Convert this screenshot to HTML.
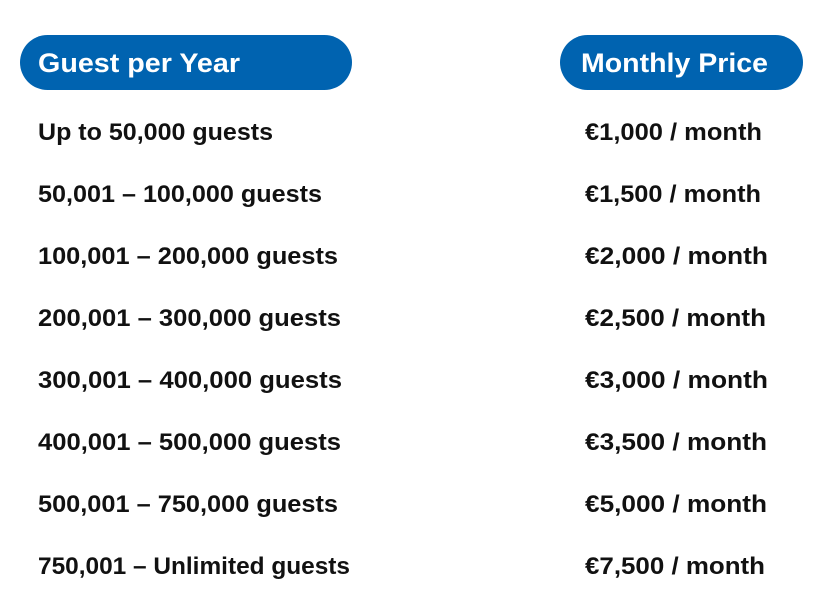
<!DOCTYPE html>
<html><head><meta charset="utf-8"><style>
html,body{margin:0;padding:0;background:#fff;}
svg{display:block;}
text{font-family:"Liberation Sans",sans-serif;font-weight:bold;}
.r{font-size:24px;fill:#111;}
.h{font-size:27px;fill:#fff;}
</style></head><body>
<svg width="837" height="612" xmlns="http://www.w3.org/2000/svg">
<rect x="20" y="35" width="332" height="55" rx="27.5" fill="#0063b0"/>
<rect x="560" y="35" width="243" height="55" rx="27.5" fill="#0063b0"/>
<text class="h" x="38" y="72" textLength="202" lengthAdjust="spacingAndGlyphs">Guest per Year</text>
<text class="h" x="581" y="72" textLength="187" lengthAdjust="spacingAndGlyphs">Monthly Price</text>
<g class="r">
<text class="r" x="38" y="140" textLength="235" lengthAdjust="spacingAndGlyphs">Up to 50,000 guests</text>
<text class="r" x="38" y="202" textLength="284" lengthAdjust="spacingAndGlyphs">50,001 – 100,000 guests</text>
<text class="r" x="38" y="264" textLength="300" lengthAdjust="spacingAndGlyphs">100,001 – 200,000 guests</text>
<text class="r" x="38" y="326" textLength="303" lengthAdjust="spacingAndGlyphs">200,001 – 300,000 guests</text>
<text class="r" x="38" y="388" textLength="304" lengthAdjust="spacingAndGlyphs">300,001 – 400,000 guests</text>
<text class="r" x="38" y="450" textLength="303" lengthAdjust="spacingAndGlyphs">400,001 – 500,000 guests</text>
<text class="r" x="38" y="512" textLength="300" lengthAdjust="spacingAndGlyphs">500,001 – 750,000 guests</text>
<text class="r" x="38" y="574" textLength="312" lengthAdjust="spacingAndGlyphs">750,001 – Unlimited guests</text>
<text class="r" x="585" y="140" textLength="177" lengthAdjust="spacingAndGlyphs">€1,000 / month</text>
<text class="r" x="585" y="202" textLength="176" lengthAdjust="spacingAndGlyphs">€1,500 / month</text>
<text class="r" x="585" y="264" textLength="183" lengthAdjust="spacingAndGlyphs">€2,000 / month</text>
<text class="r" x="585" y="326" textLength="181" lengthAdjust="spacingAndGlyphs">€2,500 / month</text>
<text class="r" x="585" y="388" textLength="183" lengthAdjust="spacingAndGlyphs">€3,000 / month</text>
<text class="r" x="585" y="450" textLength="182" lengthAdjust="spacingAndGlyphs">€3,500 / month</text>
<text class="r" x="585" y="512" textLength="182" lengthAdjust="spacingAndGlyphs">€5,000 / month</text>
<text class="r" x="585" y="574" textLength="180" lengthAdjust="spacingAndGlyphs">€7,500 / month</text>
</g>
</svg>
</body></html>
